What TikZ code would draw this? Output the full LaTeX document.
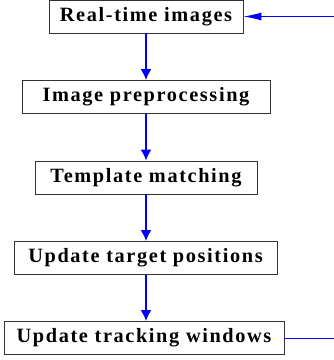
\documentclass[tikz,border=0pt]{standalone}
\usepackage{fontspec}
\setmainfont{Liberation Serif}
\usepackage{tikz}
\usetikzlibrary{arrows.meta}
\tikzset{>=latex}
\usepackage{xcolor}

\begin{document}
\begin{tikzpicture}[x=1pt,y=-1pt,
    stagebox/.style={draw=black!80, line width=0.9pt, inner sep=0pt, minimum height=33pt,
      font=\fontsize{20.3}{22}\selectfont\bfseries\addfontfeature{LetterSpace=8}},
    flow/.style={->, blue, line width=1.8pt, >={Latex[length=11pt,width=11pt]}},
    feed/.style={blue, line width=1pt}]
  \useasboundingbox (0,0) rectangle (334,360);
  \node[stagebox, minimum width=194pt] (images) at (146,16.5) {Real-time images};
  \node[stagebox, minimum width=248pt] (prep) at (146,97) {Image preprocessing};
  \node[stagebox, minimum width=222pt] (match) at (146,177.5) {Template matching};
  \node[stagebox, minimum width=263pt] (targets) at (145.5,258) {Update target positions};
  \node[stagebox, minimum width=280pt] (windows) at (144,338) {Update tracking windows};
  \coordinate (loopin) at (334,16.5);
  \coordinate (loopout) at (334,338);
  \draw[flow] (images.south) -- (images.south |- prep.north);
  \draw[flow] (images.south |- prep.south) -- (images.south |- match.north);
  \draw[flow] (images.south |- match.south) -- (images.south |- targets.north);
  \draw[flow] (images.south |- targets.south) -- (images.south |- windows.north);
  \draw[feed, -{Latex[length=18pt,width=8pt]}] (loopin) -- (images);
  \draw[feed] (windows) -- (loopout);
\end{tikzpicture}
\end{document}
